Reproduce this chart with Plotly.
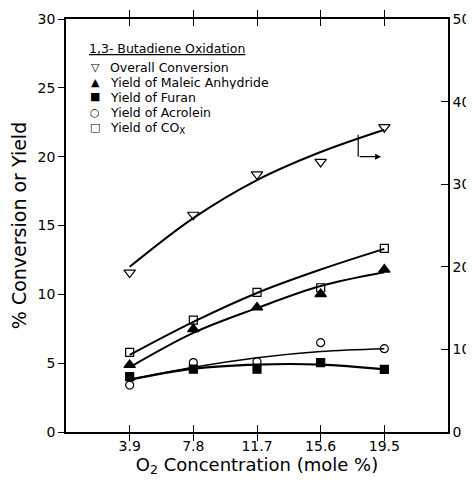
import plotly.graph_objects as go

# ---- data ----
o2_conc = [3.9, 7.8, 11.7, 15.6, 19.5]
x_tick_labels = ["3.9", "7.8", "11.7", "15.6", "19.5"]

# measured points
overall_conversion = [19.3, 26.3, 31.2, 32.7, 36.9]   # right axis
yield_maleic = [4.87, 7.48, 9.05, 10.02, 11.8]
yield_furan = [4.02, 4.57, 4.57, 5.04, 4.55]
yield_acrolein = [3.41, 5.04, 5.11, 6.49, 6.05]
yield_cox = [5.79, 8.13, 10.14, 10.48, 13.34]

# hand-drawn smoothing curves
overall_curve = [20.0, 25.9, 30.5, 33.9, 36.6]
maleic_curve = [4.7, 7.2, 9.0, 10.6, 11.6]
furan_curve = [3.8, 4.6, 4.9, 4.9, 4.55]
acrolein_curve = [3.8, 4.7, 5.4, 5.85, 6.05]
cox_curve = [5.6, 8.0, 10.1, 11.8, 13.3]

left_ticks = [0, 5, 10, 15, 20, 25, 30]
right_ticks = [0, 10, 20, 30, 40, 50]

legend_title = "1,3- Butadiene Oxidation"
legend_symbols = ["\u25BD", "\u25B2", "\u25A0", "\u25CB", "\u25A1"]
legend_labels = ["Overall Conversion", "Yield of Maleic Anhydride", "Yield of Furan",
                 "Yield of Acrolein", "Yield of CO<sub>X</sub>"]

FONT = "DejaVu Sans"
BLACK = "black"

# the page body adds an 8px offset; size the figure so the plot lands where the reference has it
OFF = 8
W, H = 474 - OFF, 481 - OFF
ML, MR, MT, MB = 66 - OFF, 26, 19 - OFF, 49
PW, PH = W - ML - MR, H - MT - MB


def px_x(px):
    return (px - OFF - ML) / PW


def px_y(py):
    return (OFF + H - MB - py) / PH


fig = go.Figure()

# curves
for ys, axis, w in [
    (overall_curve, "y2", 2),
    (cox_curve, "y", 2),
    (maleic_curve, "y", 2),
    (acrolein_curve, "y", 1.5),
    (furan_curve, "y", 2.2),
]:
    fig.add_trace(go.Scatter(x=o2_conc, y=ys, yaxis=axis, mode="lines",
                             line=dict(color=BLACK, width=w, shape="spline", smoothing=1.0),
                             showlegend=False, hoverinfo="skip"))

# markers
series = [
    (overall_conversion, "y2", "triangle-down-open", 10),
    (yield_maleic, "y", "triangle-up", 10),
    (yield_furan, "y", "square", 8),
    (yield_acrolein, "y", "circle-open", 8),
    (yield_cox, "y", "square-open", 8),
]
for ys, axis, sym, size in series:
    fig.add_trace(go.Scatter(x=o2_conc, y=ys, yaxis=axis, mode="markers", showlegend=False,
                             marker=dict(symbol=sym, size=size, color=BLACK,
                                         line=dict(color=BLACK, width=1.2))))

# arrow pointing to the right axis for overall conversion
fig.add_shape(type="line", xref="x", yref="y", x0=17.9, x1=17.9, y0=21.6, y1=20.0,
              line=dict(color=BLACK, width=1.2))
fig.add_annotation(x=19.3, y=20.0, ax=17.9, ay=20.0, xref="x", yref="y", axref="x", ayref="y",
                   text="", showarrow=True, arrowhead=2, arrowsize=1, arrowwidth=1.2,
                   arrowcolor=BLACK)

# legend block drawn as text
fig.add_annotation(xref="paper", yref="paper", x=px_x(87), y=px_y(49), xanchor="left",
                   yanchor="middle", showarrow=False, text="<u>" + legend_title + "</u>",
                   font=dict(family=FONT, size=12.5, color=BLACK))
legend_rows = [67, 82, 97, 112, 128]
for sym, lab, row in zip(legend_symbols, legend_labels, legend_rows):
    fig.add_annotation(xref="paper", yref="paper", x=px_x(95), y=px_y(row), xanchor="center",
                       yanchor="middle", showarrow=False, text=sym,
                       font=dict(family=FONT, size=11, color=BLACK))
    fig.add_annotation(xref="paper", yref="paper", x=px_x(108), y=px_y(row), xanchor="left",
                       yanchor="middle", showarrow=False, text=lab,
                       font=dict(family=FONT, size=12.5, color=BLACK),
                       height=14, valign="middle")

fig.update_layout(
    width=W, height=H,
    margin=dict(l=ML, r=MR, t=MT, b=MB),
    paper_bgcolor="white", plot_bgcolor="white",
    font=dict(family=FONT, color=BLACK, size=14),
    showlegend=False,
    xaxis=dict(range=[0, 23.4], tickvals=o2_conc, ticktext=x_tick_labels, automargin=False,
               ticks="inside", ticklen=7, tickwidth=1, tickcolor=BLACK,
               showline=True, linecolor=BLACK, linewidth=1.5, mirror="allticks",
               showgrid=False, zeroline=False, tickfont=dict(size=14),
               title=dict(text="O<sub>2</sub> Concentration (mole %)", font=dict(size=18), standoff=5)),
    yaxis=dict(range=[0, 30], tickvals=left_ticks, automargin=False,
               ticks="outside", ticklen=6, tickwidth=1, tickcolor=BLACK,
               showline=True, linecolor=BLACK, linewidth=1.5,
               showgrid=False, zeroline=False, tickfont=dict(size=14),
               title=dict(text="% Conversion or Yield", font=dict(size=19), standoff=8)),
    yaxis2=dict(range=[0, 50], tickvals=right_ticks, overlaying="y", side="right", automargin=False,
                ticks="inside", ticklen=7, tickwidth=1, tickcolor=BLACK,
                showline=True, linecolor=BLACK, linewidth=1.5,
                showgrid=False, zeroline=False, tickfont=dict(size=14)),
)

fig.write_html("out.html")
